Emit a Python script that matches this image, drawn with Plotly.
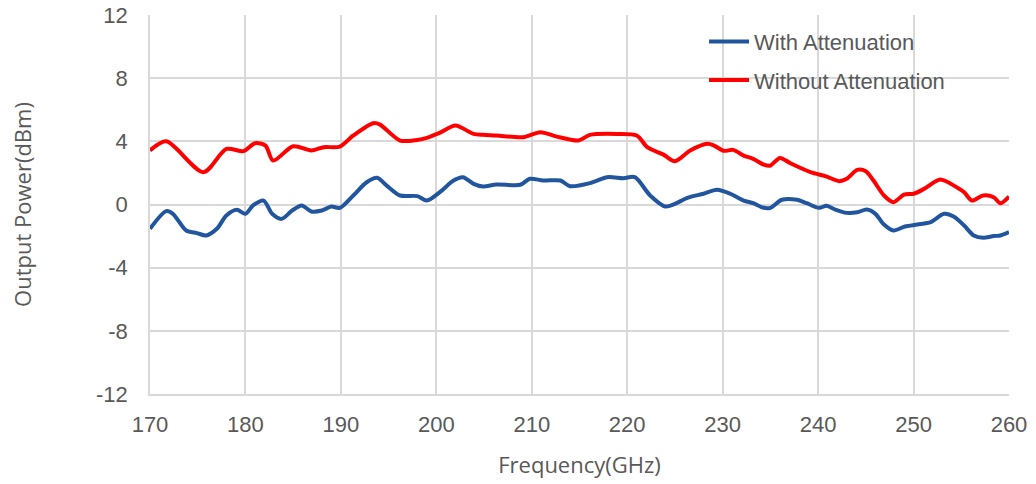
import plotly.graph_objects as go

freq_red = [170.0, 171.7, 175.6, 178.0, 179.8, 181.0, 182.1, 182.9, 185.0, 186.9, 188.2, 189.9,
            191.3, 193.4, 194.1, 196.2, 198.0, 199.0, 200.4, 202.0, 203.9, 204.9, 206.3, 209.1,
            210.9, 212.6, 214.9, 216.1, 218.9, 221.0, 222.1, 223.8, 225.0, 226.6, 228.4, 229.1,
            230.1, 231.1, 232.2, 233.2, 234.3, 235.0, 236.0, 237.1, 239.2, 240.9, 242.2, 243.0,
            244.1, 245.0, 245.8, 246.9, 247.9, 249.0, 250.0, 251.1, 252.8, 254.6, 255.3, 256.1,
            257.3, 258.4, 259.1, 260.0]
power_red = [3.42, 4.0, 2.05, 3.52, 3.38, 3.88, 3.73, 2.78, 3.69, 3.42, 3.63, 3.67,
             4.37, 5.15, 5.06, 4.05, 4.09, 4.22, 4.55, 5.0, 4.47, 4.41, 4.37, 4.26,
             4.58, 4.30, 4.05, 4.41, 4.47, 4.37, 3.63, 3.16, 2.74, 3.42, 3.84, 3.73,
             3.40, 3.46, 3.10, 2.89, 2.53, 2.47, 2.95, 2.61, 2.05, 1.77, 1.48, 1.63,
             2.19, 2.11, 1.52, 0.57, 0.15, 0.63, 0.68, 0.99, 1.58, 1.06, 0.78, 0.25,
             0.57, 0.46, 0.08, 0.50]

freq_blue = [170.0, 171.7, 172.4, 173.8, 174.9, 175.9, 177.0, 178.0, 179.1, 180.0, 180.8, 181.9,
             182.8, 183.8, 184.9, 185.9, 186.9, 188.0, 189.0, 189.9, 191.3, 192.7, 193.8, 194.8,
             196.2, 198.0, 199.0, 200.4, 201.8, 202.8, 203.9, 204.9, 206.3, 208.8, 209.8, 211.2,
             213.0, 214.0, 216.1, 217.9, 219.6, 220.8, 222.4, 224.0, 225.0, 226.3, 228.0, 229.4,
             230.8, 232.2, 233.2, 234.3, 235.0, 236.2, 237.8, 238.8, 240.1, 240.9, 241.8, 243.0,
             244.1, 245.1, 246.0, 246.9, 247.9, 249.1, 250.4, 251.8, 253.2, 254.2, 255.3, 256.3,
             257.3, 258.4, 259.1, 260.0]
power_blue = [-1.54, -0.42, -0.59, -1.65, -1.81, -1.96, -1.54, -0.70, -0.34, -0.59, -0.06, 0.25,
              -0.59, -0.91, -0.38, -0.06, -0.44, -0.38, -0.13, -0.21, 0.57, 1.41, 1.69, 1.20,
              0.57, 0.53, 0.25, 0.80, 1.52, 1.73, 1.31, 1.14, 1.27, 1.25, 1.63, 1.52,
              1.52, 1.16, 1.35, 1.73, 1.67, 1.73, 0.57, -0.13, 0.04, 0.42, 0.68, 0.93,
              0.68, 0.25, 0.08, -0.21, -0.21, 0.30, 0.30, 0.08, -0.21, -0.08, -0.32, -0.53,
              -0.49, -0.32, -0.59, -1.27, -1.65, -1.39, -1.27, -1.12, -0.59, -0.76, -1.33, -1.96,
              -2.11, -2.00, -1.96, -1.75]

x_ticks = [170, 180, 190, 200, 210, 220, 230, 240, 250, 260]
y_ticks = [-12, -8, -4, 0, 4, 8, 12]

fig = go.Figure()
fig.add_trace(go.Scatter(x=freq_blue, y=power_blue, mode="lines", name="With Attenuation",
                         legendgroup="a",
                         line=dict(color="#21569F", width=4, shape="spline", smoothing=0.8)))
fig.add_trace(go.Scatter(x=freq_red, y=power_red, mode="lines", name="Without Attenuation",
                         legendgroup="b",
                         line=dict(color="#FF0000", width=4, shape="spline", smoothing=0.8)))

title_font = dict(family="Open Sans, Noto Sans, sans-serif", size=22, color="#595959")

fig.update_layout(
    width=1036, height=484,
    margin=dict(l=150, r=27, t=15, b=90),
    paper_bgcolor="white", plot_bgcolor="white",
    font=dict(family="Liberation Sans, Arial, sans-serif", size=22, color="#595959"),
    legend=dict(x=0.645, y=0.985, xanchor="left", yanchor="top", bgcolor="rgba(0,0,0,0)",
                font=dict(size=22, color="#595959"), tracegroupgap=7, itemwidth=40),
    showlegend=True,
)
fig.update_xaxes(range=[170, 260], tickvals=x_ticks, ticktext=[str(v) for v in x_ticks],
                 showgrid=True, gridcolor="#D9D9D9", gridwidth=1.5,
                 showline=True, linecolor="#D9D9D9", linewidth=1.5, zeroline=False,
                 ticks="", ticklabelstandoff=10, automargin=False,
                 title=dict(text="Frequency(GHz)", font=title_font, standoff=21))
fig.update_yaxes(range=[-12, 12], tickvals=y_ticks, ticktext=[str(v) for v in y_ticks],
                 showgrid=True, gridcolor="#D9D9D9", gridwidth=1.5,
                 showline=True, linecolor="#D9D9D9", linewidth=1.5, zeroline=False,
                 ticks="", ticklabelstandoff=16, automargin=False,
                 title=dict(text="Output Power(dBm)", font=title_font, standoff=58))

fig.write_html("out.html", config={"displayModeBar": False},
               post_script="document.body.style.margin='0px';")
